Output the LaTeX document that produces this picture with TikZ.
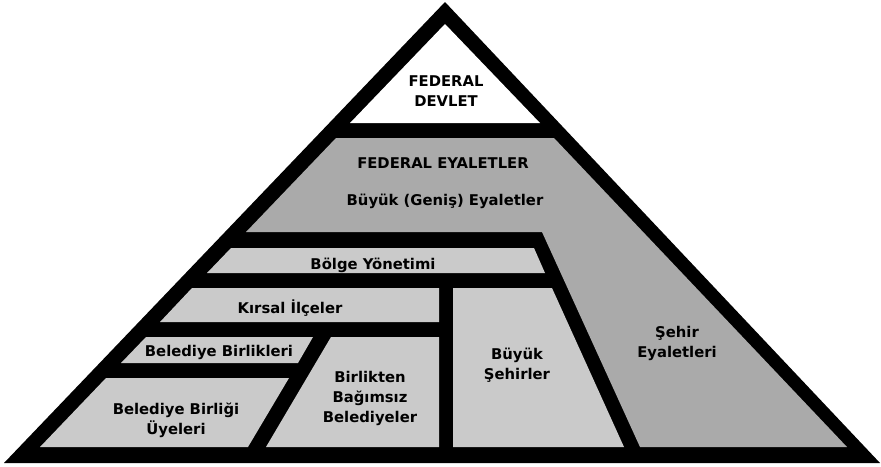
\documentclass[tikz,border=0pt]{standalone}
\usepackage{fontspec}
\setmainfont{DejaVu Sans}
\usetikzlibrary{positioning}
\definecolor{grayDark}{RGB}{170,170,170}
\definecolor{grayLight}{RGB}{202,202,202}
\tikzset{
    part_black/.style={fill=black},
    part_white/.style={fill=white},
    part_dark/.style={fill=grayDark},
    part_light/.style={fill=grayLight},
    label_txt/.style={align=center, font=\bfseries\fontsize{14.8}{20}\selectfont, inner sep=0pt}
}
\begin{document}
\begin{tikzpicture}[x=1pt, y=-1pt]
    \useasboundingbox (0,0) rectangle (881,466);
    % Outer pyramid
    \fill[part_black] (4,463) -- (445,2) -- (880,463) -- cycle;
    % Top
    \fill[part_white] (350,123) -- (445,24) -- (540,123) -- cycle;
    % Federal states and city states
    \fill[part_dark] (336,138) -- (554,138) -- (847,447) -- (640,447) -- (542,232) -- (246,232) -- cycle;
    % Lower rows
    \fill[part_light] (231,248) -- (534,248) -- (545,273) -- (207,273) -- cycle;
    \fill[part_light] (192,288) -- (439,288) -- (439,322) -- (160,322) -- cycle;
    \fill[part_light] (453,288) -- (552,288) -- (624,447) -- (453,447) -- cycle;
    \fill[part_light] (146,337) -- (313,337) -- (298,363) -- (121,363) -- cycle;
    \fill[part_light] (106,378) -- (289,378) -- (248,447) -- (40,447) -- cycle;
    \fill[part_light] (331,337) -- (439,337) -- (439,447) -- (266,447) -- cycle;

    % Labels
    \node (devlet) [label_txt] at (446,91) {FEDERAL\\DEVLET};
    \node (eyalet) [label_txt] at (443,163) {FEDERAL EYALETLER};
    \node (genis) [label_txt] at (445,201) {Büyük (Geniş) Eyaletler};
    \node (bolge) [label_txt] at (373,265) {Bölge Yönetimi};
    \node (kirsal) [label_txt] at (290,308) {Kırsal İlçeler};
    \node (birlik) [label_txt] at (219,352) {Belediye Birlikleri};
    \node (uye) [label_txt] at (176,420) {Belediye Birliği\\Üyeleri};
    \node (bagimsiz) [label_txt] at (370,398) {Birlikten\\Bağımsız\\Belediyeler};
    \node (buyuk) [label_txt] at (517,365) {Büyük\\Şehirler};
    \node (sehir) [label_txt] at (677,343) {Şehir\\Eyaletleri};
\end{tikzpicture}
\end{document}
